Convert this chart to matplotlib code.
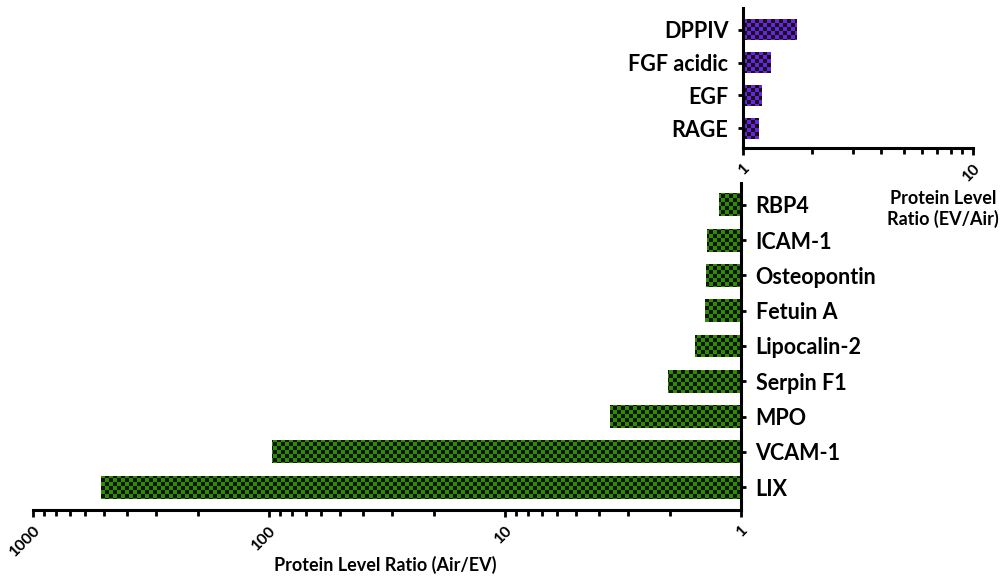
import numpy as np
import matplotlib
matplotlib.use('Agg')
import matplotlib.pyplot as plt
from matplotlib.image import BboxImage
from matplotlib.transforms import ScaledTranslation

# proteins raised in EV (upper panel) and in Air (lower panel)
up_names = ['RAGE', 'EGF', 'FGF acidic', 'DPPIV']
up_ratio = [1.17, 1.21, 1.32, 1.72]

down_names = ['LIX', 'VCAM-1', 'MPO', 'Serpin F1', 'Lipocalin-2',
              'Fetuin A', 'Osteopontin', 'ICAM-1', 'RBP4']
down_ratio = [516, 97, 3.6, 2.04, 1.57, 1.42, 1.41, 1.39, 1.24]

W, H, DPI = 1004, 580, 100
FONT = 'Lato'
plt.rcParams['font.family'] = [FONT, 'DejaVu Sans']
plt.rcParams['font.weight'] = 'bold'


def checker(ax, color, cell=4):
    '''Checkerboard RGB array the size of the axes in pixels.'''
    x0, y0, w, h = ax.get_position().bounds
    nx, ny = int(round(w * W)), int(round(h * H))
    yy, xx = np.mgrid[0:ny, 0:nx]
    mask = ((xx // cell + yy // cell) % 2).astype(bool)
    base = np.array(matplotlib.colors.to_rgb(color))
    dark = np.array(matplotlib.colors.to_rgb('#141414'))
    return np.where(mask[..., None], base, dark)


def fill_bars(ax, bars, color):
    arr = checker(ax, color)
    for b in bars:
        b.set_facecolor('none')
        b.set_edgecolor('none')
        im = BboxImage(ax.bbox, interpolation='nearest', origin='lower', zorder=2)
        im.set_data(arr)
        # clip with a path, not the Rectangle itself
        im.set_clip_path(b.get_path(), b.get_transform())
        ax.add_artist(im)


def style_axis(ax, side):
    for s in ['top', 'left', 'right', 'bottom']:
        ax.spines[s].set_visible(False)
    ax.spines['bottom'].set_visible(True)
    ax.spines[side].set_visible(True)
    for s in ['bottom', side]:
        ax.spines[s].set_linewidth(2.2)
        ax.spines[s].set_capstyle('projecting')
        ax.spines[s].set_zorder(3)
    ax.tick_params(axis='x', which='major', length=5, width=2, direction='out', pad=8)
    ax.tick_params(axis='x', which='minor', length=4, width=2, direction='out')
    ax.tick_params(axis='y', length=3.5, width=2, pad=7, labelsize=15.5)


def tilt_labels(ax):
    nudge = ScaledTranslation(5 / DPI, 0, fig.dpi_scale_trans)
    for lab in ax.get_xticklabels():
        lab.set_rotation(45)
        lab.set_ha('right')
        lab.set_va('center')
        lab.set_rotation_mode('anchor')
        lab.set_fontsize(11.5)
        lab.set_transform(lab.get_transform() + nudge)


fig = plt.figure(figsize=(W / DPI, H / DPI), dpi=DPI)

# upper panel: EV/Air
ax1 = fig.add_axes([743 / W, 1 - 148 / H, 230 / W, 140 / H])
pos1 = np.arange(len(up_names))
bars1 = ax1.barh(pos1, np.array(up_ratio) - 1, left=1, height=0.64)
ax1.set_xscale('log')
ax1.set_xlim(1, 10)
ax1.set_ylim(-0.61, 3.67)
ax1.set_yticks(pos1, up_names)
ax1.set_xticks([1, 10], ['1', '10'])
ax1.set_xticks(np.arange(2, 10), minor=True)
ax1.tick_params(axis='x', which='minor', labelbottom=False)
style_axis(ax1, 'left')
tilt_labels(ax1)
fill_bars(ax1, bars1, '#6a22e6')

# lower panel: Air/EV, axis reversed
ax2 = fig.add_axes([33 / W, 1 - 510 / H, 708 / W, 327 / H])
pos2 = np.arange(len(down_names))
bars2 = ax2.barh(pos2, np.array(down_ratio) - 1, left=1, height=0.65)
ax2.set_xscale('log')
ax2.set_xlim(1000, 1)
ax2.set_ylim(-0.65, 8.62)
ax2.yaxis.tick_right()
ax2.set_yticks(pos2, down_names)
ax2.set_xticks([1000, 100, 10, 1], ['1000', '100', '10', '1'])
ax2.set_xticks([m * d for d in [1, 10, 100] for m in range(2, 10)], minor=True)
ax2.tick_params(axis='x', which='minor', labelbottom=False)
style_axis(ax2, 'right')
tilt_labels(ax2)
fill_bars(ax2, bars2, '#2f8c00')

fig.text(385 / W, 1 - 565 / H, 'Protein Level Ratio (Air/EV)', ha='center', va='center',
         fontsize=13, fontweight='bold')
fig.text(943 / W, 1 - 209 / H, 'Protein Level\nRatio (EV/Air)', ha='center', va='center',
         fontsize=13, fontweight='bold', linespacing=1.15)

fig.savefig('out.png', dpi=DPI)
